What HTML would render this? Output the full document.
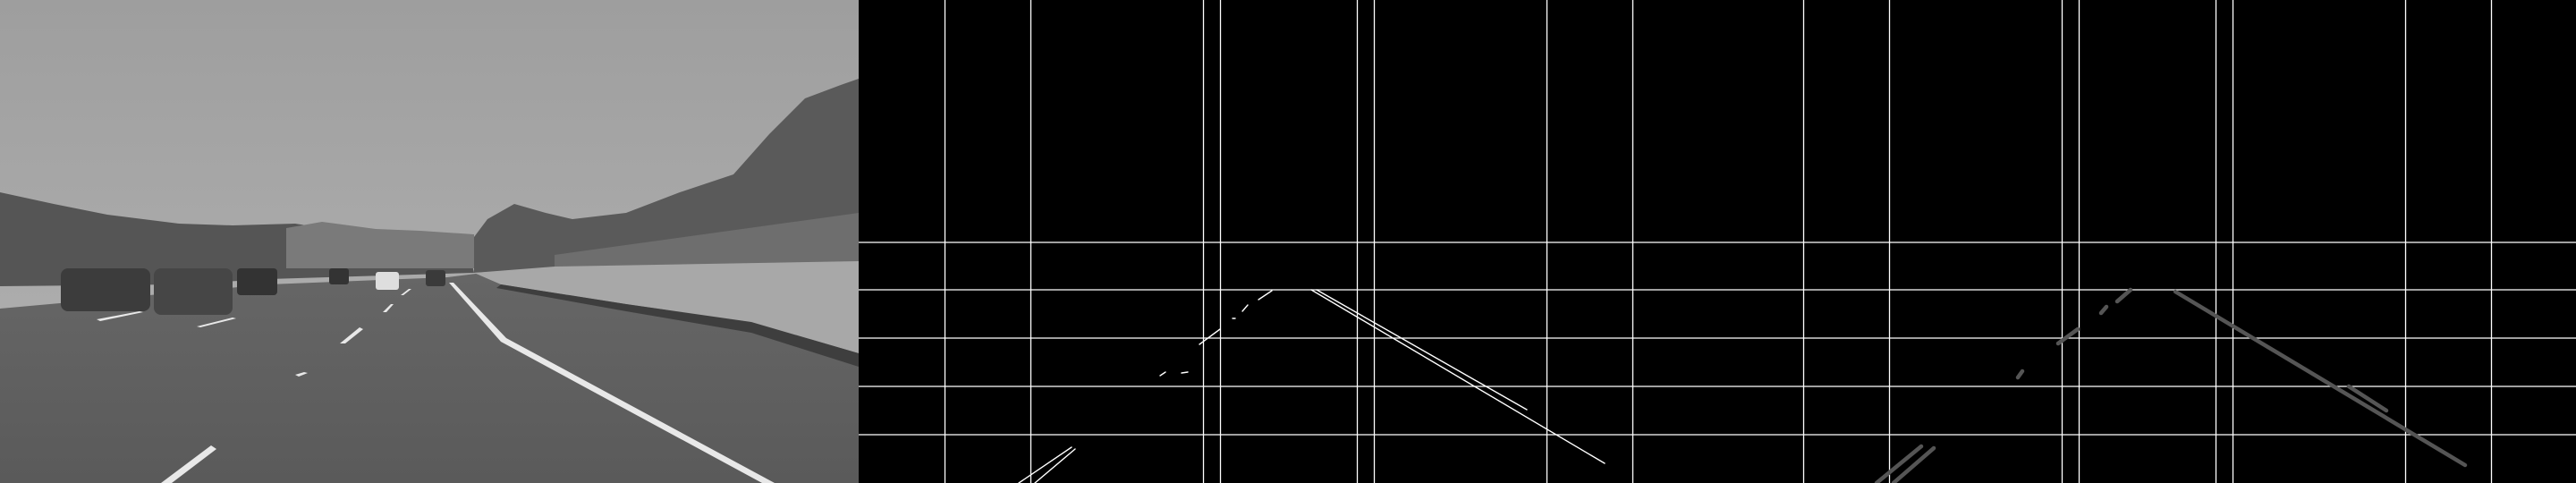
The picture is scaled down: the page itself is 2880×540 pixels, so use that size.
<!DOCTYPE html>
<html><head><meta charset="utf-8"><style>
html,body{margin:0;padding:0;background:#000;width:2880px;height:540px;overflow:hidden}
svg{display:block}
</style></head><body>
<svg id="root" width="2880" height="540" viewBox="0 0 2880 540">
<defs>
<linearGradient id="sky" x1="0" y1="0" x2="0" y2="1"><stop offset="0" stop-color="#9e9e9e"/><stop offset="1" stop-color="#b4b4b4"/></linearGradient>
<linearGradient id="road" x1="0" y1="0" x2="0" y2="1"><stop offset="0" stop-color="#666"/><stop offset="1" stop-color="#5a5a5a"/></linearGradient>
</defs>
<g>
<rect x="0" y="0" width="960" height="540" fill="url(#sky)"/>
<polygon fill="url(#road)" points="0,345 300,318 500,310 540,305 960,390 960,540 0,540"/>
<polygon fill="#555" points="0,215 60,228 120,240 200,250 260,252 330,250 380,258 450,262 520,262 530,305 300,312 200,318 0,320"/>
<polygon fill="#7a7a7a" points="320,255 360,248 420,256 470,258 530,262 530,300 320,300"/>
<polygon fill="#5a5a5a" points="530,265 545,245 575,228 610,238 640,245 700,238 760,215 790,205 820,195 860,150 900,110 940,95 960,88 960,250 620,300 530,305"/>
<polygon fill="#6e6e6e" points="620,285 960,238 960,300 620,300"/>
<polygon fill="#a8a8a8" points="530,305 620,298 960,292 960,395 840,360 700,340 560,318"/>
<polygon fill="#3e3e3e" points="560,318 700,340 840,360 960,395 960,410 840,372 700,348 555,322"/>
<polygon fill="#e8e8e8" points="502,316 507,316 566,378 866,540 852,540 560,382"/>
<g fill="#e8e8e8">
<polygon points="180,540 192,540 242,502 236,498"/>
<polygon points="380,384 386,384 406,368 402,366"/>
<polygon points="428,349 432,349 440,340 437,340"/>
<polygon points="448,330 451,330 460,323 457,323"/>
<polygon points="108,357 112,359 160,349 156,348"/>
<polygon points="220,365 224,366 264,356 260,355"/>
<polygon points="330,419 334,421 344,417 340,416"/>
</g>
<g>
<rect x="68" y="300" width="100" height="48" rx="8" fill="#3c3c3c"/>
<rect x="172" y="300" width="88" height="52" rx="8" fill="#464646"/>
<rect x="265" y="300" width="45" height="30" rx="4" fill="#333"/>
<rect x="368" y="300" width="22" height="18" rx="3" fill="#333"/>
<rect x="420" y="304" width="26" height="20" rx="3" fill="#dedede"/>
<rect x="476" y="302" width="22" height="18" rx="3" fill="#3a3a3a"/>
</g>
</g>
<g id="mid"></g>
<g id="right"></g>
</svg>
<script>
// grid positions (panel-relative)
const gridX = [96, 192, 385, 404, 557, 576, 769, 865];
const gridY = [271, 324, 378, 432, 486];
// edge segments in middle panel [x1,y1,x2,y2]
const edgeSegs = [[506,324,834,518],[512,324,747,458],[179,540,238,500],[197,540,242,502],[381,385,404,368],[429,348,435,341],[447,335,462,325],[337,420,343,416],[361,417,368,416],[418,356,421,356]];
// hough line segments in right panel
const houghSegs = [[512,326,836,520],[706,432,748,459],[178,540,228,499],[197,540,242,501],[381,384,403,368],[429,350,435,343],[447,337,462,324],[336,422,341,415]];
const NS='http://www.w3.org/2000/svg';
function mk(tag,attrs,parent){const e=document.createElementNS(NS,tag);for(const k in attrs)e.setAttribute(k,attrs[k]);parent.appendChild(e);return e;}
function panel(id,x0,segs,color,width){
  const g=document.getElementById(id);
  const bg=mk('rect',{x:x0,y:0,width:960,height:540,fill:'#000'},g);
  
  
  gridX.forEach(x=>{const l=mk('line',{x1:x0+x+0.5,y1:0,x2:x0+x+0.5,y2:540,stroke:'#fff','stroke-width':1.3},g);
    
    });
  gridY.forEach(y=>{const l=mk('line',{x1:x0,y1:y,x2:x0+960,y2:y,stroke:'#fff','stroke-width':1.3},g);
    
    });
  segs.forEach(s=>{const l=mk('line',{x1:x0+s[0],y1:s[1],x2:x0+s[2],y2:s[3],stroke:color,'stroke-width':width,'stroke-linecap':'round'},g);
    
    });
}
panel('mid',960,edgeSegs,'#fff',1.4);
panel('right',1920,houghSegs,'#555',4.5);
</script>
</body></html>
